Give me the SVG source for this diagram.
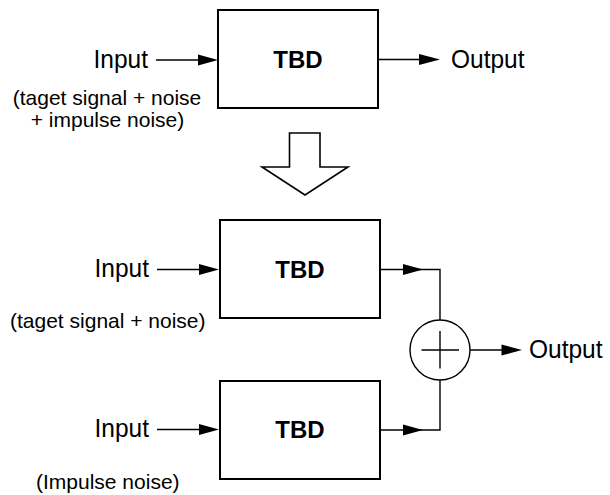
<svg xmlns="http://www.w3.org/2000/svg" width="610" height="495" viewBox="0 0 610 495">
<style>
.box{fill:#fff;stroke:#000;stroke-width:2}
.ln{fill:none;stroke:#000;stroke-width:1.4}
.hd{fill:#000;stroke:none}
.t{font-family:"Liberation Sans",Arial,sans-serif;font-size:24.5px;fill:#000}
.s{font-family:"Liberation Sans",Arial,sans-serif;font-size:21px;fill:#000}
.b{font-family:"Liberation Sans",Arial,sans-serif;font-size:24px;font-weight:bold;fill:#000;text-anchor:middle}
</style>
<rect width="610" height="495" fill="#fff"/>
<g id="top-input-label">
<text class="t" transform="translate(148,68) scale(1,1.07)" text-anchor="end">Input</text>
<text class="s" x="107" y="105" text-anchor="middle">(taget signal + noise</text>
<text class="s" x="107.5" y="127" text-anchor="middle">+ impulse noise)</text>
</g>
<g id="top-tbd">
<rect class="box" x="218" y="10" width="160" height="98"/>
<text class="b" x="298" y="68">TBD</text>
</g>
<g id="top-output-label">
<text class="t" transform="translate(451,68) scale(1,1.07)">Output</text>
</g>
<g id="transform-arrow">
<polygon points="289.5,133 320,133 320,167 348,167 305,195 262,167 289.5,167" fill="#fff" stroke="#000" stroke-width="1.6" stroke-linejoin="miter"/>
</g>
<g id="bottom-input1-label">
<text class="t" transform="translate(149,277) scale(1,1.07)" text-anchor="end">Input</text>
<text class="s" x="10" y="328">(taget signal + noise)</text>
</g>
<g id="tbd1">
<rect class="box" x="220" y="220" width="160" height="98"/>
<text class="b" x="300" y="278">TBD</text>
</g>
<g id="bottom-input2-label">
<text class="t" transform="translate(149,437) scale(1,1.07)" text-anchor="end">Input</text>
<text class="s" x="36" y="489">(Impulse noise)</text>
</g>
<g id="tbd2">
<rect class="box" x="220" y="381" width="160" height="98"/>
<text class="b" x="300" y="438">TBD</text>
</g>
<g id="sum">
<circle cx="440" cy="350" r="30" fill="#fff" stroke="#000" stroke-width="1.4"/>
<line class="ln" x1="421.5" y1="350" x2="459" y2="350"/>
<line class="ln" x1="440" y1="331" x2="440" y2="368.5"/>
</g>
<g id="bottom-output-label">
<text class="t" transform="translate(529,358) scale(1,1.07)">Output</text>
</g>
<g id="connectors">
<line class="ln" x1="156" y1="60" x2="200" y2="60"/>
<polygon class="hd" points="198,54.5 218,60 198,65.5"/>
<line class="ln" x1="378" y1="59.5" x2="421" y2="59.5"/>
<polygon class="hd" points="419,54 440,59.5 419,65"/>
<line class="ln" x1="157" y1="269.5" x2="201" y2="269.5"/>
<polygon class="hd" points="199,264 219,269.5 199,275"/>
<line class="ln" x1="157" y1="429.5" x2="201" y2="429.5"/>
<polygon class="hd" points="199,424 219,429.5 199,435"/>
<polyline class="ln" points="380,269.5 440,269.5 440,320"/>
<polygon class="hd" points="403,264 423,269.5 403,275"/>
<polyline class="ln" points="380,430 440,430 440,380"/>
<polygon class="hd" points="403,424.5 423,430 403,435.5"/>
<line class="ln" x1="470" y1="350" x2="503" y2="350"/>
<polygon class="hd" points="501.5,344.5 522,350 501.5,355.5"/>
</g>
</svg>
